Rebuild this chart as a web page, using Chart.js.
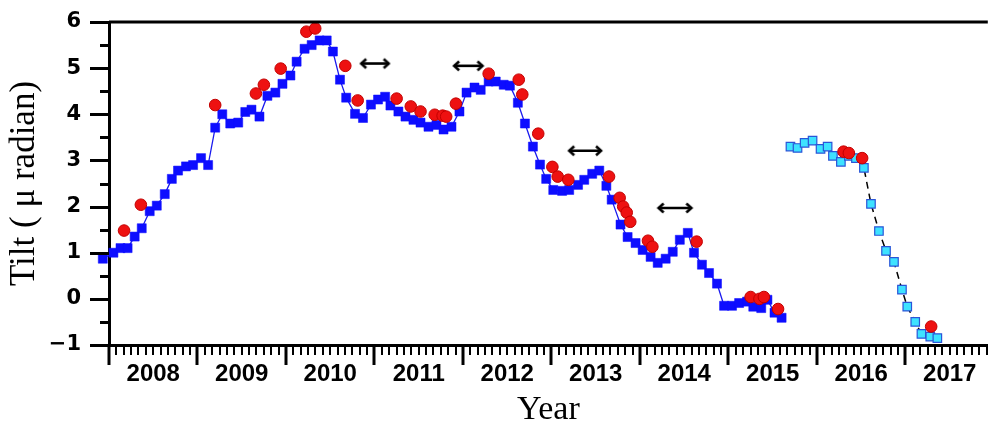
<!DOCTYPE html>
<html>
<head>
<meta charset="utf-8">
<script src="https://cdn.jsdelivr.net/npm/chart.js@4.4.1/dist/chart.umd.min.js"></script>
<style>
  html, body { margin: 0; padding: 0; background: #fff; }
  #wrap { width: 995px; height: 431px; }
</style>
</head>
<body>
<div id="wrap"><canvas id="tilt" width="995" height="431"></canvas></div>
<script>
// values: decimal year, tilt in micro-radian
const blueX = [2007.93, 2008.05, 2008.13, 2008.21, 2008.29, 2008.37, 2008.46, 2008.54, 2008.63, 2008.71,
  2008.78, 2008.87, 2008.95, 2009.04, 2009.12, 2009.20, 2009.28, 2009.37, 2009.46, 2009.54,
  2009.61, 2009.70, 2009.79, 2009.88, 2009.96, 2010.05, 2010.12, 2010.21, 2010.29, 2010.38,
  2010.46, 2010.53, 2010.61, 2010.68, 2010.78, 2010.87, 2010.96, 2011.04, 2011.12, 2011.18,
  2011.27, 2011.35, 2011.44, 2011.52, 2011.61, 2011.70, 2011.78, 2011.87, 2011.96, 2012.04,
  2012.13, 2012.20, 2012.29, 2012.37, 2012.46, 2012.53, 2012.62, 2012.70, 2012.79, 2012.87,
  2012.94, 2013.02, 2013.12, 2013.20, 2013.30, 2013.37, 2013.46, 2013.54, 2013.62, 2013.68,
  2013.78, 2013.86, 2013.95, 2014.03, 2014.12, 2014.20, 2014.29, 2014.37, 2014.45, 2014.54,
  2014.61, 2014.70, 2014.78, 2014.87, 2014.95, 2015.04, 2015.12, 2015.21, 2015.28, 2015.37,
  2015.44, 2015.52, 2015.60];
const blueY = [0.87, 1.00, 1.10, 1.10, 1.35, 1.53, 1.90, 2.02, 2.27, 2.60,
  2.78, 2.87, 2.90, 3.05, 2.90, 3.71, 4.00, 3.80, 3.82, 4.05,
  4.10, 3.95, 4.40, 4.47, 4.66, 4.84, 5.14, 5.42, 5.50, 5.60,
  5.60, 5.36, 4.75, 4.36, 4.01, 3.92, 4.21, 4.32, 4.38, 4.19,
  4.06, 3.95, 3.88, 3.82, 3.73, 3.77, 3.67, 3.73, 4.06, 4.47,
  4.58, 4.53, 4.71, 4.71, 4.64, 4.62, 4.25, 3.80, 3.30, 2.91,
  2.60, 2.36, 2.34, 2.36, 2.47, 2.58, 2.71, 2.78, 2.45, 2.15,
  1.61, 1.34, 1.21, 1.06, 0.91, 0.78, 0.87, 1.02, 1.28, 1.43,
  1.00, 0.74, 0.56, 0.33, -0.15, -0.15, -0.09, -0.06, -0.17, -0.20,
  -0.02, -0.30, -0.41];

const cyanX = [2015.70, 2015.78, 2015.86, 2015.95, 2016.04, 2016.12, 2016.18, 2016.27, 2016.36, 2016.44,
  2016.53, 2016.61, 2016.70, 2016.78, 2016.87, 2016.96, 2017.02, 2017.11, 2017.18, 2017.28, 2017.36];
const cyanY = [3.30, 3.27, 3.38, 3.43, 3.25, 3.30, 3.10, 2.97, 3.10, 3.05,
  2.84, 2.06, 1.47, 1.04, 0.80, 0.20, -0.17, -0.50, -0.76, -0.82, -0.85];

const redX = [2008.17, 2008.36, 2009.20, 2009.66, 2009.75, 2009.94, 2010.23, 2010.33, 2010.67, 2010.81,
  2011.25, 2011.41, 2011.52, 2011.68, 2011.77, 2011.81, 2011.92, 2012.29, 2012.63, 2012.67,
  2012.85, 2013.01, 2013.07, 2013.19, 2013.65, 2013.77, 2013.81, 2013.85, 2013.89, 2014.09,
  2014.14, 2014.64, 2015.25, 2015.35, 2015.40, 2015.56, 2016.30, 2016.36, 2016.51, 2017.29];
const redY = [1.48, 2.04, 4.20, 4.45, 4.64, 4.99, 5.79, 5.86, 5.05, 4.30,
  4.34, 4.17, 4.06, 3.99, 3.97, 3.95, 4.23, 4.88, 4.75, 4.43,
  3.58, 2.86, 2.65, 2.58, 2.65, 2.19, 2.00, 1.87, 1.67, 1.26,
  1.13, 1.24, 0.04, 0.00, 0.04, -0.22, 3.19, 3.16, 3.05, -0.60];

// double arrows: start year, end year, level
const arrowStart = [2010.85, 2011.90, 2013.20, 2014.21];
const arrowEnd = [2011.16, 2012.22, 2013.56, 2014.58];
const arrowY = [5.10, 5.05, 3.21, 1.97];

const yearLabels = ['2008', '2009', '2010', '2011', '2012', '2013', '2014', '2015', '2016', '2017'];
const yTickValues = [-1, 0, 1, 2, 3, 4, 5, 6];
const yTickLabels = ['\u22121', '0', '1', '2', '3', '4', '5', '6'];

function pts(xs, ys) {
  return xs.map((x, i) => ({ x: x, y: ys[i] }));
}

// open arrow head with its tip at the centre of a small canvas
function head(dir) {
  const c = document.createElement('canvas');
  c.width = 24; c.height = 24;
  const g = c.getContext('2d');
  g.strokeStyle = '#000';
  g.lineWidth = 2.6;
  g.lineJoin = 'miter';
  g.beginPath();
  g.moveTo(12 - 5 * dir, 7.5);
  g.lineTo(12, 12);
  g.lineTo(12 - 5 * dir, 16.5);
  g.stroke();
  return c;
}
const headL = head(-1);
const headR = head(1);

const arrowSets = arrowStart.map((s, i) => ({
  data: [{ x: s, y: arrowY[i] }, { x: arrowEnd[i], y: arrowY[i] }],
  showLine: true,
  borderColor: '#000',
  borderWidth: 2.6,
  pointStyle: [headL, headR],
  pointRadius: 3,
  order: 0
}));

// tick marks: months on x, half units on y, plus the top frame line
const frame = {
  id: 'frame',
  afterDraw(chart) {
    const { ctx, chartArea: a, scales } = chart;
    const xs = scales.x, ys = scales.y;
    ctx.save();
    ctx.strokeStyle = '#000';
    for (let m = 0; 2008 + m / 12 <= xs.max; m++) {
      const px = Math.round(xs.getPixelForValue(2008 + m / 12));
      const major = m % 12 === 0;
      ctx.lineWidth = major ? 3 : 2;
      ctx.beginPath();
      ctx.moveTo(px, a.bottom);
      ctx.lineTo(px, a.bottom + (major ? 20 : 10));
      ctx.stroke();
    }
    for (let k = 0; ys.min + k * 0.5 <= ys.max; k++) {
      const py = Math.round(ys.getPixelForValue(ys.min + k * 0.5)) + 0.5;
      const major = k % 2 === 0;
      ctx.lineWidth = 3;
      ctx.beginPath();
      ctx.moveTo(a.left, py);
      ctx.lineTo(a.left - (major ? 19 : 9), py);
      ctx.stroke();
    }
    ctx.lineWidth = 3;
    ctx.beginPath();
    ctx.moveTo(a.left, a.top);
    ctx.lineTo(a.right, a.top);
    ctx.stroke();
    ctx.restore();
  }
};

new Chart(document.getElementById('tilt'), {
  type: 'scatter',
  data: {
    datasets: [
      {
        data: pts(redX, redY),
        pointStyle: 'circle',
        pointRadius: 5.8,
        backgroundColor: '#ee1111',
        borderColor: '#c20000',
        borderWidth: 1,
        order: 1
      },
      ...arrowSets,
      {
        data: pts(cyanX, cyanY),
        showLine: true,
        borderColor: '#000',
        borderWidth: 1.5,
        borderDash: [7, 5],
        pointStyle: 'rect',
        pointRadius: 6,
        pointBackgroundColor: '#3ee2ff',
        pointBorderColor: '#2a55d8',
        pointBorderWidth: 1.2,
        order: 2
      },
      {
        data: pts(blueX, blueY),
        showLine: true,
        borderColor: '#1a1aee',
        borderWidth: 1.3,
        pointStyle: 'rect',
        pointRadius: 6.4,
        pointBackgroundColor: '#0d0dff',
        pointBorderColor: '#0d0dff',
        pointBorderWidth: 0.5,
        order: 3
      }
    ]
  },
  options: {
    responsive: false,
    devicePixelRatio: 1,
    animation: false,
    clip: false,
    layout: { padding: { top: 22, right: 0, bottom: 0, left: 0 } },
    plugins: { legend: { display: false }, tooltip: { enabled: false } },
    scales: {
      x: {
        type: 'linear',
        min: 2008,
        max: 2017.93,
        grid: { display: true, drawOnChartArea: false, drawTicks: false },
        border: { display: true, color: '#000', width: 3 },
        ticks: {
          stepSize: 0.5,
          includeBounds: false,
          autoSkip: false,
          maxRotation: 0,
          padding: 17,
          color: '#000',
          font: { family: 'Liberation Sans', size: 24, weight: 'bold', lineHeight: 1 },
          callback: v => {
            const f = v - Math.floor(v);
            return Math.abs(f - 0.5) < 0.01 ? yearLabels[Math.floor(v) - 2008] : '';
          }
        },
        title: {
          display: true,
          text: 'Year',
          color: '#000',
          font: { family: 'Liberation Serif', size: 34, lineHeight: 1 },
          padding: { top: 4, bottom: 4 }
        },
        afterFit: s => {
          s.height = 86;
          s.paddingLeft = 0;
          s.paddingRight = 0;
        }
      },
      y: {
        min: -1,
        max: 6,
        grid: { display: true, drawOnChartArea: false, drawTicks: false },
        border: { display: true, color: '#000', width: 3 },
        ticks: {
          stepSize: 0.5,
          includeBounds: false,
          autoSkip: false,
          padding: 28,
          color: '#000',
          font: { family: 'DejaVu Sans', size: 21, weight: 'bold', lineHeight: 1 },
          callback: v => {
            const i = yTickValues.indexOf(v);
            return i >= 0 ? yTickLabels[i] : '';
          }
        },
        title: {
          display: true,
          text: 'Tilt ( \u03bc radian)',
          color: '#000',
          font: { family: 'Liberation Serif', size: 35, lineHeight: 1 },
          padding: { top: 7, bottom: 7 }
        },
        afterFit: s => {
          s.width = 109;
          s.paddingTop = 0;
          s.paddingBottom = 0;
        }
      }
    }
  },
  plugins: [frame]
});
</script>
</body>
</html>
